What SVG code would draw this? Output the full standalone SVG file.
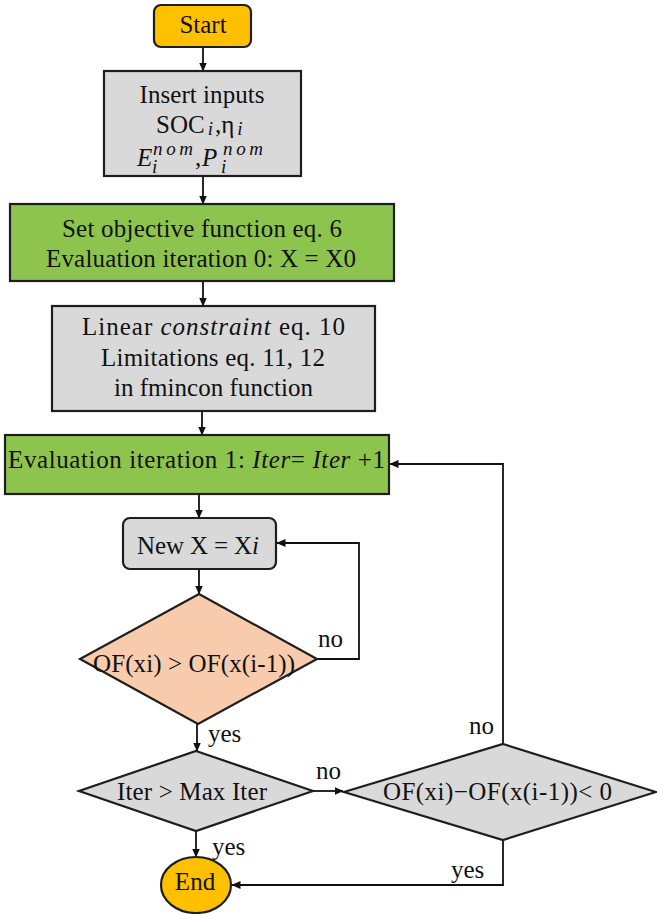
<svg xmlns="http://www.w3.org/2000/svg" width="657" height="914" viewBox="0 0 657 914">
<defs>
<marker id="arr" markerWidth="9" markerHeight="9" refX="8.5" refY="4.5" orient="auto" markerUnits="userSpaceOnUse">
<path d="M0,0.5 L9,4.5 L0,8.5 z" fill="#111"/>
</marker>
<style>
.node{stroke:#1e1e1e;stroke-width:2.2}
.term{fill:#FFC000}
.grey{fill:#D9D9D9}
.green{fill:#8DC44E}
.peach{fill:#F8CBAD}
.t{font-size:25px;fill:#111}
.c{text-anchor:middle}
.it{font-style:italic}
.sm{font-size:19px}
.conn{fill:none;stroke:#111;stroke-width:1.8}
</style>
</defs>
<rect width="657" height="914" fill="#fff"/>
<g font-family="Liberation Serif">

<g id="connectors">
<line class="conn" x1="203" y1="47" x2="203" y2="71" marker-end="url(#arr)"/>
<line class="conn" x1="203" y1="176" x2="203" y2="204" marker-end="url(#arr)"/>
<line class="conn" x1="203" y1="281" x2="203" y2="306" marker-end="url(#arr)"/>
<line class="conn" x1="202" y1="411" x2="202" y2="435" marker-end="url(#arr)"/>
<line class="conn" x1="199" y1="494" x2="199" y2="518" marker-end="url(#arr)"/>
<line class="conn" x1="199" y1="569" x2="199" y2="594" marker-end="url(#arr)"/>
<polyline class="conn" points="317,659 359,659 359,543 277,543" marker-end="url(#arr)"/>
<line class="conn" x1="197" y1="724" x2="197" y2="751" marker-end="url(#arr)"/>
<line class="conn" x1="313" y1="791" x2="343" y2="791" marker-end="url(#arr)"/>
<line class="conn" x1="196" y1="831" x2="196" y2="857" marker-end="url(#arr)"/>
<polyline class="conn" points="503,840 503,885 232,885" marker-end="url(#arr)"/>
<polyline class="conn" points="503,744 503,464 390,464" marker-end="url(#arr)"/>
<text class="t" x="318" y="647">no</text>
<text class="t" x="208" y="742">yes</text>
<text class="t" x="316" y="779">no</text>
<text class="t" x="212" y="855">yes</text>
<text class="t" x="469" y="734">no</text>
<text class="t" x="451" y="878">yes</text>
</g>

<g id="start">
<rect class="node term" x="154" y="5" width="97" height="42" rx="7"/>
<text class="t c" x="203" y="33">Start</text>
</g>

<g id="inputs">
<rect class="node grey" x="104" y="71" width="197" height="105"/>
<text class="t c" x="202" y="103" textLength="125" lengthAdjust="spacing">Insert inputs</text>
<text class="t" x="156" y="133">SOC<tspan class="it sm" dx="3" dy="2">i</tspan><tspan dx="2" dy="-2">,η</tspan><tspan class="it sm" dx="3" dy="2">i</tspan></text>
<text class="t it" x="137" y="166">E<tspan class="sm" x="153" y="155" textLength="40">nom</tspan><tspan class="sm" x="152" y="173">i</tspan><tspan x="195" y="166" font-style="normal">,</tspan><tspan x="202" y="166">P</tspan><tspan class="sm" x="223" y="155" textLength="40">nom</tspan><tspan class="sm" x="221" y="173">i</tspan></text>
</g>

<g id="objective">
<rect class="node green" x="10" y="204" width="384" height="77"/>
<text class="t" x="62" y="237" textLength="280" lengthAdjust="spacing">Set objective function eq. 6</text>
<text class="t" x="46" y="267" textLength="310" lengthAdjust="spacing">Evaluation iteration 0: X = X0</text>
</g>

<g id="constraints">
<rect class="node grey" x="52" y="306" width="323" height="105"/>
<text class="t" x="82" y="335" textLength="263" lengthAdjust="spacing">Linear <tspan class="it">constraint</tspan> eq. 10</text>
<text class="t" x="101" y="366" textLength="224" lengthAdjust="spacing">Limitations eq. 11, 12</text>
<text class="t" x="114" y="396" textLength="199" lengthAdjust="spacing">in fmincon function</text>
</g>

<g id="iteration">
<rect class="node green" x="5" y="435" width="384" height="59"/>
<text class="t" x="8" y="468" textLength="377" lengthAdjust="spacing">Evaluation iteration 1: <tspan class="it">Iter</tspan>= <tspan class="it">Iter</tspan> +1</text>
</g>

<g id="newx">
<rect class="node grey" x="123" y="518" width="153" height="51" rx="7"/>
<text class="t" x="137" y="554" textLength="122" lengthAdjust="spacing">New X = X<tspan class="it">i</tspan></text>
</g>

<g id="check-of">
<polygon class="node peach" points="199,594 317,659 198,724 80,659"/>
<text class="t" x="93" y="672" textLength="202" lengthAdjust="spacing">OF(xi) &gt; OF(x(i-1))</text>
</g>

<g id="check-iter">
<polygon class="node grey" points="196,751 313,791 196,831 79,791"/>
<text class="t" x="117" y="800" textLength="150" lengthAdjust="spacing">Iter &gt; Max Iter</text>
</g>

<g id="check-diff">
<polygon class="node grey" points="503,744 656,792 503,840 344,792"/>
<text class="t" x="383" y="800" textLength="229" lengthAdjust="spacing">OF(xi)−OF(x(i-1))&lt; 0</text>
</g>

<g id="end">
<ellipse class="node term" cx="196" cy="885" rx="35" ry="28"/>
<text class="t c" x="195" y="890">End</text>
</g>
</g>
</svg>
